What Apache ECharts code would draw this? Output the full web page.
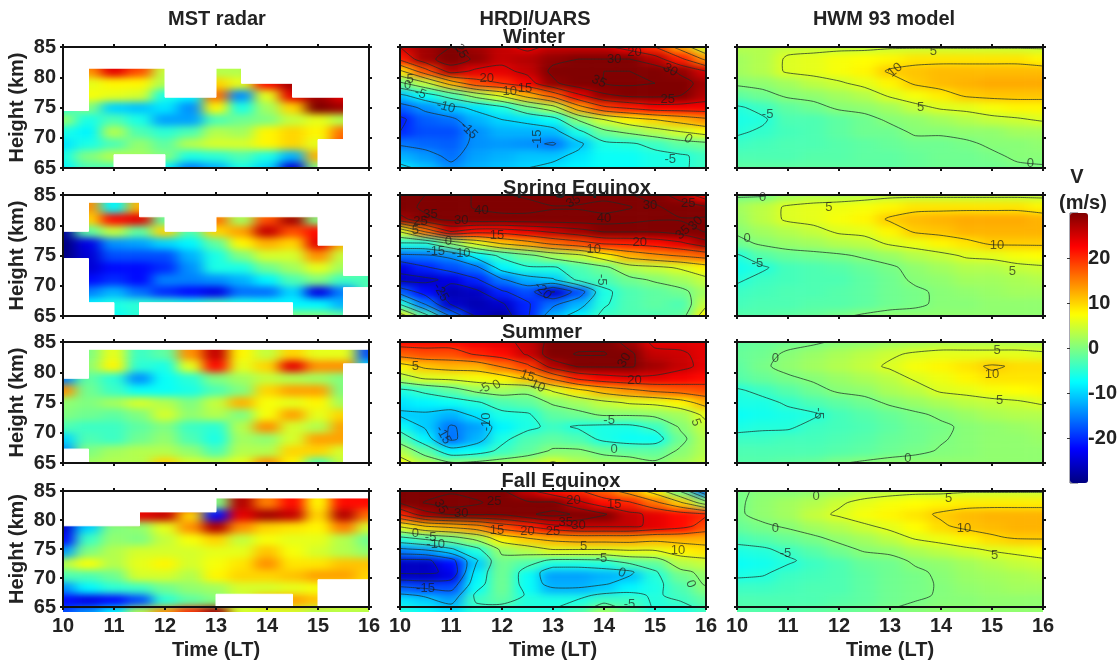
<!DOCTYPE html>
<html><head><meta charset="utf-8">
<script src="https://cdn.jsdelivr.net/npm/echarts@6/dist/echarts.min.js"></script>
<style>
html,body{margin:0;padding:0;background:#fff;width:1120px;height:661px;overflow:hidden}
.clip{position:absolute;overflow:hidden;z-index:1}
.inner{position:absolute;filter:url(#soft)}
#over{position:absolute;left:0;top:0;width:1120px;height:661px;z-index:2}
</style></head><body>
<svg width="0" height="0" style="position:absolute"><filter id="soft" x="0" y="0" width="100%" height="100%" color-interpolation-filters="sRGB"><feGaussianBlur stdDeviation="7 3.5"/></filter></svg>
<div id="under"></div><div id="over"></div>
<script>
// Grid nodes: time columns and height rows (top row first)
const times=[10,10.5,11,11.5,12,12.5,13,13.5,14,14.5,15,15.5,16];
const heights=[85,83,81,79,77,75,73,71,69,67,65];
const xTicks=[10,11,12,13,14,15,16], yTicks=[65,70,75,80,85];
const barTicks=[20,10,0,-10,-20];
const levelsHRDI=[-30,-25,-20,-15,-10,-5,0,5,10,15,20,25,30,35,40];
const levelsHWM=[-5,0,5,10];

const mstWinter=[
[0,18,25,20,10,5,5,3,20,25,22,20,20],
[0,18,25,20,10,5,5,3,18,20,22,20,20],
[0,14,24,18,4,2,3,3,20,20,20,20,20],
[0,6,8,8,3,0,10,6,22,28,25,20,20],
[0,7,6,5,-6,-8,16,-14,6,24,28,24,20],
[-5,0,-10,-11,-9,-14,8,-6,2,10,30,28,22],
[1,-6,-3,-6,-13,-13,-3,-1,0,4,6,3,3],
[-6,-8,3,-3,-5,-3,3,2,8,10,8,16,15],
[-9,-6,-3,1,-2,3,5,5,8,10,6,18,18],
[-6,0,3,2,0,-6,-5,-3,-6,-12,12,12,12],
[-8,-3,-3,-3,-8,-15,-12,-6,-10,-25,0,0,0]];
const hrdiWinter=[
[25,28,30,28,26,24,26,26,26,23,20,13,5],
[21,28,33,29,26,27,29,30,30,30,27,21,14],
[9,18,27,24,24,26,31,34,35,35,33,29,25],
[-1,4,12,18,20,23,29,33,35,36,35,32,28],
[-11,-7,-3,2,6,12,17,24,29,31,31,30,27],
[-17,-14,-11,-9,-6,-1,3,13,19,21,23,23,23],
[-21,-17,-16,-12,-10,-9,-7,0.5,5,8,10,12,14],
[-20,-18,-18,-14,-12,-12,-11.5,-6,-1,1,3,5,7],
[-15.5,-16.5,-17,-14,-13.5,-14,-15.5,-11,-6,-5.5,-4,-2,-1],
[-12,-13.5,-16,-13,-12,-11,-11,-9,-7,-7,-6,-5.5,-4],
[-9,-11,-14,-12,-11,-10,-9,-8,-7,-7,-6,-5.5,-4]];
const hwmWinter=[
[3,3,4,4,4,4,4.5,4.5,4.5,4.5,4.5,4.5,4.5],
[2,3,5.5,6,7,7.5,8,9,9,9,9,9,8],
[2,3,5.5,6,7,8,10.5,11,11.5,11.5,11.5,11.5,11.5],
[0.5,1,2,3.5,4.5,6,8,10.5,11.5,12,12.5,12.5,12.5],
[-2,-1,0.5,1,2,3,5.5,7,8.5,10.5,11,11,11],
[-5.5,-4,-2,-1,0.5,1,2,4,5.5,6,7,8,8],
[-6,-5.5,-3,-3,-2,-1,0.5,1,2,3,4,4.5,5.5],
[-5.5,-4.5,-3.5,-3,-2,-1,-1,0.5,0.5,1,1,2,2],
[-4,-3.5,-3,-3,-2.5,-2,-1.5,-1,-1,-0.5,0.5,0.5,1],
[-3,-3,-3,-2.5,-2.5,-2,-2,-1.5,-1,-1,-0.5,0.5,0.5],
[-2,-2,-2,-2,-2,-2,-2,-1.5,-1,-1,-1,-0.5,-0.2]];

const mstSpring=[
[-25,14,-8,12,8,0,8,8,8,8,20,0,0],
[-25,14,-8,12,8,0,8,8,8,8,20,0,0],
[-25,10,22,24,-2,2,16,2,18,28,0,12,0],
[-28,-2,4,-2,10,-3,10,13,26,18,22,12,0],
[-30,-24,-14,-13,-10,-8,-2,8,12,10,24,12,-2],
[-30,-25,-18,-18,-18,-12,-6,0,5,5,14,4,0],
[-25,-25,-22,-22,-20,-14,-6,-6,-1,2,6,2,-3],
[-20,-22,-20,-22,-15,-15,-14,-12,-8,-3,0,-4,-3],
[-20,-15,-12,-16,-20,-22,-24,-16,-16,-10,-24,-15,-3],
[-8,-8,-6,-5,-5,-6,-4,-6,-7,-8,-8,-12,-5],
[-5,-7,-7,-5,-5,-5,-5,-5,-5,0,0,-2,-5]];
const hrdiSpring=[
[32,35,38,40.5,40.5,39,36,38,38,35.5,32,28,22],
[33,36,38,40.5,42,42,40.5,40.5,42,40.5,36,32,30.5],
[28,34,36,38,38,38,38,38,38,37,35.5,35.5,36],
[5.5,16,25.5,22,22,24,26,28,30.5,30.5,30.5,32,35.5],
[-5.5,-5.5,0.5,6,10.5,13,16,18,20.5,21,22,24,28],
[-16,-15.5,-14,-8,-4,-1,2,4,8,12,14,15.5,17],
[-24,-20.5,-18,-16,-8,-5.5,-5.5,-3,-1,3,4,5.5,8],
[-26,-26,-24,-20.5,-15.5,-12,-10.5,-4,-3,-1,0.5,2,4],
[-17,-22,-27,-26,-20.5,-18,-25.5,-18,-6,-3,-2,-1,2],
[-5.5,-15.5,-25.5,-27,-25.5,-20.5,-16,-12,-5.5,-3,-2,-3,4],
[8,-3,-15.5,-25.5,-28,-20.5,-12,-8,-4,-3,-3,-2,8]];
const hwmSpring=[
[-0.5,-0.5,2,3,3,3.5,4,4,4,4,4,4,4],
[2,3.5,5.5,6,6.5,7,8,9,9,9,9,9,8],
[1.5,3.5,5.5,6,7,8,10.5,11.5,12,12.5,12.5,12.5,12],
[0.5,2,3,4,5.5,6,8,10.5,11,12,12,12,12],
[-1,0.5,1.5,2,3,3.5,5.5,6.5,8,9,10.5,10.5,10.5],
[-5.5,-2.5,-1.5,-1,-0.5,0.5,1.5,3,4,5.5,6,7,7.5],
[-6.5,-5.5,-3.5,-3,-2.5,-1.5,-0.5,1,2,3,3,4,4.5],
[-5.5,-4,-3.5,-3,-3,-2,-1,0.5,1,2,2,2.5,3],
[-4,-3.5,-3,-3,-2.5,-2,-1,-0.5,0.5,1,1.5,2,2],
[-3.5,-3,-3,-2.5,-2.5,-2,-1,-0.5,0.5,0.5,1,1,1],
[-2.5,-2.5,-2,-1.5,-0.5,0.5,1,1,1,1,1,1,1]];

const mstSummer=[
[-5,0,6,-4,-2,14,26,8,4,10,6,6,-18],
[-5,0,6,-4,-2,14,26,8,4,10,6,6,-18],
[-5,1,8,-5,-6,6,22,6,10,24,14,14,-10],
[-15,-2,-5,-14,-7,-5,0,2,4,3,2,0,-3],
[14,-1,-4,-7,-7,-6,-3,0,10,13,13,0,-3],
[1,0,2,5,3,0,4,12,7,6,8,2,-2],
[0,-1,-2,0,5,1,3,0,7,13,6,10,-3],
[-3,-4,-4,-2,0,-4,-5,3,14,5,3,13,-1],
[-10,-3,-4,-1,1,-3,-6,2,1,5,13,13,1],
[-14,0,2,3,3,1,-3,3,3,10,10,5,13],
[0,2,3,3,10,5,4,6,14,8,-3,4,7]];
const hrdiSummer=[
[22,22,22,23,24,26,32,33,33,28,24,24,24],
[17,18,18,20.5,22,25.5,33,35.5,35.5,31,26,25.5,24],
[8,11,12,12,15.5,19,27,30.5,30.5,30.5,28,26,24],
[3,5.5,6,7,8,11,16,21,23,24,24,23,22],
[-6,-4,-2,1,2,1,5.5,9,12,14,16,17,18],
[-9,-8,-7,-5.5,-3,-2,0.5,2,4,5.5,6,8,12],
[-10.5,-10.5,-12,-9,-6,-5.5,-2,-1,0.5,0.5,1,2,6],
[-7,-10.5,-15.5,-13,-8,-6,-4,-5.5,-6,-6,-4,0.5,4],
[-2,-8,-16,-12,-6,-3,-2,-3,-6,-7,-7,-1,3],
[3,-2,-8,-7,-4,-2,0.5,0.5,-1,-2,-2,0.5,3],
[7,3,0.5,1,2,3,5.5,3,2,2,0.5,2,4]];
const hwmSummer=[
[-2,-1.5,-1,-0.5,0.5,1,2,2.5,3,3,3,3,3],
[-1.5,-1,0.5,1.5,2.5,3.5,4.5,5.5,6,6,6,6,5.5],
[-2,-0.5,1,2,3,4,5.5,7,8,9,10.5,9.5,9.5],
[-2.5,-1.5,-0.5,0.5,1.5,2.5,3.5,5.5,6.5,8,9,9,9],
[-5.5,-4,-2.5,-1,0.5,1,2.5,3.5,5.5,6,7,7.5,8],
[-6,-6,-4.5,-3,-2,-1,0.5,1.5,2.5,3.5,4,4.5,5.5],
[-7,-6.5,-6,-5.5,-3.5,-2.5,-1.5,-0.5,0.5,1.5,2.5,3,3],
[-6,-5.5,-5.5,-4,-3.5,-3,-2,-1,-0.5,0.5,1,1.5,2],
[-4,-4,-3.5,-3.5,-3,-2.5,-1.5,-1,-0.2,0.5,1,1,1.5],
[-3,-3,-3,-3,-2.5,-2,-1.2,-0.5,0.2,0.5,1,1,1],
[-2.5,-2.5,-2,-1.5,-0.2,0.5,1,1,1,1,1,1,1]];

const mstFall=[
[-20,-20,15,20,20,24,0,27,15,22,8,22,22],
[-20,-20,15,20,20,24,0,27,15,22,8,22,22],
[-20,-20,15,24,26,10,-22,24,28,26,10,27,16],
[-25,-10,0,1,6,14,27,14,10,9,8,15,5],
[-22,-4,1,0,4,7,10,4,7,6,6,3,-1],
[-13,0,3,5,5,5,6,6,11,7,5,3,1],
[3,7,3,6,8,5,7,9,14,9,9,11,11],
[-3,-3,-1,5,5,3,8,10,10,11,13,13,10],
[-14,-8,-5,-4,-1,1,2,5,5,6,7,8,8],
[-22,-24,-22,-18,-5,-2,0,4,12,13,11,8,8],
[-18,-14,-8,3,14,20,28,5,5,5,3,3,3]];
const hrdiFall=[
[30.5,32,34,32,30.5,26,22,20.5,17,13,8,-0.5,-15.5],
[30.5,35.5,38,36,32,30.5,30.5,26,22,20.5,16,10.5,2],
[20.5,28,30.5,30.5,30.5,34,37,34,30.5,26,24,22,20.5],
[6,10.5,12,14,18,20.5,24,26,26,26,24,22,18],
[-5.5,-3,-1,2,8,10.5,12,13,13,13,12,12,12],
[-15.5,-14,-10.5,-6,1,3,5.5,5.5,5.5,6,6,8,9],
[-26,-26,-22,-10.5,-1,-3,-6,-6,-5.5,-3,-2,3,4],
[-26,-26,-24,-8,-1,-7,-13,-13,-12,-11,-5.5,-1,1],
[-17,-18,-18,-7,-1,-7,-12,-12,-10.5,-8,-6,-3,0.5],
[-9,-10.5,-13,-4,-2,-5.5,-6,-6,-4,-4,-5.5,-4,-2],
[-5.5,-7,-9,-5.5,-6,-5.5,-5.5,-3,2,-2,-5.5,-6,-4]];
const hwmFall=[
[-0.5,0.5,0.5,1,2,3,3.5,4,4,4.5,4.5,4.5,4.5],
[-0.5,1,2,3,4.5,6,7,7.5,8,8.5,8.5,8.5,8.5],
[-0.5,1,2,4,5.5,7,8,9,10.5,11.5,12,12,12],
[-1.5,-0.5,0.5,2,3,4.5,6,7.5,9.5,11,11.5,12,12],
[-3.5,-2.5,-1.5,-0.5,1,2,3.5,5.5,6.5,8,9.5,10.5,10.5],
[-6,-5.5,-4,-2.5,-1,0.5,1,2.5,3.5,4.5,5.5,6,7],
[-7,-6.5,-5.5,-4,-3,-1.5,-1,0.5,1,2,3,4,4.5],
[-6,-5.5,-4,-3.5,-3,-2,-1,-0.5,0.5,1.5,2,2.5,3],
[-4,-4,-3.5,-3,-3,-2,-1,-0.5,0.2,1,1.5,2,2],
[-3,-3,-3,-3,-2.5,-2,-1,-0.5,0.3,0.5,1,1,1],
[-2.5,-2.5,-2.5,-2,-1.5,-1,-0.2,0.5,1,1,1,1,1]];

// Missing radar data: [time from, time to, height from, height to]
const gapsWinter=[[10,10.5,74.5,85],[10.5,12,81.5,85],[12,13,76.7,85],[13,13.5,81.5,85],[13.5,14.5,79,85],[14.5,15.5,76.7,85],[15.5,16,65,85],[15,15.5,65,69.7],[11,12,65,67.2]];
const gapsSpring=[[10,10.5,79,85],[10,10.5,65,74.5],[10.5,11.5,83.8,85],[11.5,12,81.4,85],[12,13,79,85],[13,15,81.4,85],[15,15.5,76.7,85],[15.5,16,71.7,85],[15.5,16,65,69.7],[10.5,11,65,67.2],[11.5,14.5,65,67.2]];
const gapsSummer=[[10,16,83.8,85],[10,10.5,79,85],[10,10.5,65,67.3],[15.5,16,65,81.4]];
const gapsFall=[[10,11.5,79,85],[11.5,13,81.4,85],[13,16,83.8,85],[13,14.5,65,67.2],[15,16,65,69.7]];

// Contour labels: [time, height, text, rotation]
const labHrdiWinter=[[11.2,84.3,'25',-60],[14.6,84.1,'20',0],[14.2,82.9,'30',0],[15.3,81.2,'30',-30],[13.9,79.3,'35',-25],[11.7,79.8,'20',0],[12.45,78.2,'15',0],[12.15,77.6,'10',0],[15.25,76.3,'25',0],[15.65,69.8,'0',-30],[10.2,79.6,'5',0],[10.15,78.7,'0',0],[10.4,77.3,'-5',-20],[10.9,75.1,'-10',-15],[11.35,71.2,'-15',-45],[12.7,69.8,'-15',90],[15.3,66.5,'-5',0]];
const labHrdiSpring=[[10.6,81.8,'35',0],[10.4,80.7,'25',0],[10.3,79.2,'5',0],[11.2,80.8,'30',0],[11.6,82.5,'40',0],[13.4,83.9,'35',30],[14,81.2,'40',0],[14.9,83.3,'30',0],[15.65,83.6,'25',0],[15.55,78.8,'35',40],[15.8,80.3,'30',45],[11.9,78.4,'15',0],[14.7,77.2,'20',0],[13.8,76,'10',0],[10.95,77.3,'0',0],[10.7,75.6,'-15',0],[11.2,75.3,'-10',0],[13.95,71,'-5',-90],[10.8,68.9,'-25',-60],[12.8,69.2,'-20',-45]];
const labHrdiSummer=[[10.3,80.9,'5',0],[12.5,79.4,'15',-20],[12.7,77.7,'10',-25],[11.9,77.9,'0',30],[11.65,77.3,'-5',30],[14.6,78.7,'20',0],[14.4,82,'30',60],[11.7,71.8,'-10',90],[10.85,69.6,'-15',-60],[14.1,72.1,'-5',0],[14.2,67.3,'0',0],[15.8,71.7,'5',-70]];
const labHrdiFall=[[11.85,83.2,'25',0],[10.8,82.3,'35',-60],[11.2,81.2,'30',0],[13.4,83.3,'20',0],[14.2,82.6,'15',0],[13.25,79.6,'35',0],[13.5,79,'30',0],[11.9,78.2,'15',0],[12.5,78,'20',0],[13,78,'25',0],[10.3,77.6,'0',0],[10.6,77,'-5',0],[10.7,75.8,'-10',0],[13.6,75.4,'5',0],[15.45,74.8,'10',0],[13.95,73.4,'-5',0],[14.35,70.9,'0',-20],[10.5,68.2,'-15',0],[15.7,69,'0',-70],[14.5,65.4,'-5',0]];
const labHwmWinter=[[13.85,84.2,'5',0],[13.1,81.2,'10',40],[13.6,75,'5',0],[10.6,73.8,'-5',0],[15.75,65.8,'0',0]];
const labHwmSpring=[[10.5,84.6,'0',0],[11.8,82.9,'5',0],[10.2,77.8,'0',0],[10.4,73.7,'-5',0],[15.1,76.7,'10',0],[15.4,72.4,'5',0]];
const labHwmSummer=[[10.75,82.3,'0',0],[15.1,83.6,'5',0],[15,79.6,'10',0],[15.15,75.4,'5',0],[11.6,73.2,'-5',-90],[13.35,65.8,'0',0]];
const labHwmFall=[[11.55,84.1,'0',0],[14.15,83.8,'5',0],[10.75,78.5,'0',0],[14.45,78.5,'10',0],[10.95,74.2,'-5',0],[15.05,73.9,'5',0]];

const jet=['#000080','#0000ff','#0080ff','#00ffff','#80ff80','#ffff00','#ff8000','#ff0000','#800000'];
const FONT='"Liberation Sans",Arial,sans-serif';
const colX=[63,400,737], rowY=[47,195,342,491], PW=306, PH=121;

const panels=[
 {r:0,c:0,d:mstWinter,gaps:gapsWinter},{r:0,c:1,d:hrdiWinter,lv:levelsHRDI,lab:labHrdiWinter},{r:0,c:2,d:hwmWinter,lv:levelsHWM,lab:labHwmWinter},
 {r:1,c:0,d:mstSpring,gaps:gapsSpring},{r:1,c:1,d:hrdiSpring,lv:levelsHRDI,lab:labHrdiSpring},{r:1,c:2,d:hwmSpring,lv:levelsHWM,lab:labHwmSpring},
 {r:2,c:0,d:mstSummer,gaps:gapsSummer},{r:2,c:1,d:hrdiSummer,lv:levelsHRDI,lab:labHrdiSummer},{r:2,c:2,d:hwmSummer,lv:levelsHWM,lab:labHwmSummer},
 {r:3,c:0,d:mstFall,gaps:gapsFall},{r:3,c:1,d:hrdiFall,lv:levelsHRDI,lab:labHrdiFall},{r:3,c:2,d:hwmFall,lv:levelsHWM,lab:labHwmFall}];

// Soft-edged heatmap layer, one chart per panel; edge cells are repeated beyond the clip so the blur keeps full colour up to the frame
const PAD=2, nx=times.length, ny=heights.length, cw=PW/(nx-1), ch=PH/(ny-1);
const under=document.getElementById('under');
panels.forEach(p=>{
  const clip=document.createElement('div');clip.className='clip';
  clip.style.cssText=`left:${colX[p.c]}px;top:${rowY[p.r]}px;width:${PW}px;height:${PH}px`;
  const inner=document.createElement('div');inner.className='inner';
  const W=Math.round(cw*(nx+2*PAD)),H=Math.round(ch*(ny+2*PAD));
  inner.style.cssText=`left:${-(PAD+.5)*cw}px;top:${-(PAD+.5)*ch}px;width:${W}px;height:${H}px`;
  clip.appendChild(inner);under.appendChild(clip);
  const data=[],xc=[],yc=[];
  for(let i=0;i<nx+2*PAD;i++)xc.push(i);
  for(let j=0;j<ny+2*PAD;j++)yc.push(j);
  for(let i=0;i<nx+2*PAD;i++)for(let j=0;j<ny+2*PAD;j++){
    const ci=Math.min(nx-1,Math.max(0,i-PAD));
    const rj=Math.min(ny-1,Math.max(0,j-PAD));
    data.push([i,ny+2*PAD-1-j,p.d[rj][ci]]);
  }
  echarts.init(inner,null,{width:W,height:H}).setOption({animation:false,
    grid:{left:0,right:0,top:0,bottom:0},
    xAxis:{type:'category',data:xc,show:false},yAxis:{type:'category',data:yc,show:false},
    visualMap:{show:false,min:-30,max:30,inRange:{color:jet},dimension:2},
    series:[{type:'heatmap',data,progressive:0,itemStyle:{borderWidth:0}}]});
});

function contours(d,levels){
  const out=[];
  levels.forEach(lv=>{
    const segs=[];
    for(let j=0;j<ny-1;j++)for(let i=0;i<nx-1;i++){
      const a=d[j][i],b=d[j][i+1],c=d[j+1][i+1],e=d[j+1][i];
      const X0=times[i],X1=times[i+1],Y0=heights[j],Y1=heights[j+1];
      const cut=(v1,v2,f)=>((v1>=lv)!==(v2>=lv))?f((lv-v1)/(v2-v1)):null;
      const T=cut(a,b,t=>[X0+t*(X1-X0),Y0]),R=cut(b,c,t=>[X1,Y0+t*(Y1-Y0)]),
            B=cut(e,c,t=>[X0+t*(X1-X0),Y1]),L=cut(a,e,t=>[X0,Y0+t*(Y1-Y0)]);
      const pts=[T,R,B,L].filter(Boolean);
      if(pts.length===2)segs.push(pts);
      else if(pts.length===4){
        const up=(a+b+c+e)/4>=lv;
        if((a>=lv)===up){segs.push([T,R]);segs.push([B,L]);}
        else{segs.push([T,L]);segs.push([R,B]);}
      }
    }
    const key=q=>q[0].toFixed(4)+','+q[1].toFixed(4);
    const used=segs.map(()=>false);
    const find=q=>{const k=key(q);for(let s=0;s<segs.length;s++){if(used[s])continue;
      if(key(segs[s][0])===k){used[s]=true;return segs[s][1];}
      if(key(segs[s][1])===k){used[s]=true;return segs[s][0];}}return null;};
    for(let s=0;s<segs.length;s++){
      if(used[s])continue;used[s]=true;
      const line=[segs[s][0],segs[s][1]];let n;
      while((n=find(line[line.length-1])))line.push(n);
      while((n=find(line[0])))line.unshift(n);
      out.push(line);
    }
  });
  return out;
}

// Axes, frames, contours, labels, colour bar
const grids=[],xAxes=[],yAxes=[],series=[];
const axisBase={axisLine:{show:true,onZero:false,lineStyle:{color:'#111',width:2}},axisTick:{show:true,length:3,lineStyle:{color:'#111',width:2}},splitLine:{show:false},z:6};
const tickFont={fontFamily:FONT,fontWeight:'bold',fontSize:20,color:'#222'};
panels.forEach((p,i)=>{
  grids.push({left:colX[p.c],top:rowY[p.r],width:PW,height:PH,containLabel:false});
  const xb={...axisBase,type:'value',min:10,max:16,interval:1,gridIndex:i};
  const yb={...axisBase,type:'value',min:65,max:85,interval:5,gridIndex:i};
  xAxes.push({...xb,position:'bottom',axisLabel:{show:p.r===3,margin:9,...tickFont},
    ...(p.r===3?{name:'Time (LT)',nameLocation:'middle',nameGap:33,nameTextStyle:{...tickFont}}:{})});
  xAxes.push({...xb,position:'top',axisLabel:{show:false}});
  yAxes.push({...yb,position:'left',axisLabel:{show:p.c===0,margin:7,...tickFont},
    ...(p.c===0?{name:'Height (km)',nameLocation:'middle',nameGap:36,nameTextStyle:{...tickFont}}:{})});
  yAxes.push({...yb,position:'right',axisLabel:{show:false}});
  const xi=2*i,yi=2*i;
  if(p.gaps)series.push({type:'custom',xAxisIndex:xi,yAxisIndex:yi,z:3,silent:true,
    encode:{x:[0,1],y:[2,3]},data:p.gaps,
    renderItem:(ps,api)=>{const a=api.coord([api.value(0),api.value(3)]),b=api.coord([api.value(1),api.value(2)]);
      return{type:'rect',shape:{x:a[0],y:a[1],width:b[0]-a[0],height:b[1]-a[1]},style:{fill:'#fff',stroke:'#fff',lineWidth:1}};}});
  if(p.lv){
    const lines=contours(p.d,p.lv);
    series.push({type:'custom',xAxisIndex:xi,yAxisIndex:yi,z:4,silent:true,data:lines.map((l,k)=>[l[0][0],l[0][1],k]),
      encode:{x:0,y:1},
      renderItem:(ps,api)=>({type:'polyline',shape:{points:lines[api.value(2)].map(q=>api.coord(q)),smooth:0.25},
        style:{fill:null,stroke:'rgba(30,45,40,0.72)',lineWidth:1}})});
    series.push({type:'scatter',xAxisIndex:xi,yAxisIndex:yi,z:5,silent:true,symbolSize:0.1,itemStyle:{color:'transparent'},
      data:p.lab.map(q=>({value:[q[0],q[1]],label:{formatter:q[2],rotate:q[3]}})),
      label:{show:true,position:'inside',fontFamily:FONT,fontSize:13,color:'rgba(25,25,25,0.85)'}});
  }
});
// Colour bar frame and tick labels
grids.push({left:1070,top:213,width:18,height:270,show:true,borderColor:'#556',borderWidth:1,backgroundColor:'transparent'});
xAxes.push({type:'value',gridIndex:12,show:false,min:0,max:1});
yAxes.push({type:'value',gridIndex:12,min:-30,max:30,interval:10,position:'right',
  axisLine:{show:false},axisTick:{show:true,inside:true,length:3,lineStyle:{color:'#333'},customValues:barTicks},splitLine:{show:false},
  axisLabel:{margin:10,...tickFont,customValues:barTicks}});
series.push({type:'scatter',xAxisIndex:xAxes.length-1,yAxisIndex:yAxes.length-1,data:[],id:'bar'});

const titles=[['MST radar',217,19],['HRDI/UARS',535,19],['Winter',534,37],['HWM 93 model',884,19],
 ['Spring Equinox',577,188],['Summer',542,332],['Fall Equinox',561,481],['V',1077,177],['(m/s)',1083,203]];

echarts.init(document.getElementById('over'),null,{width:1120,height:661}).setOption({
  animation:false,backgroundColor:'transparent',
  title:titles.map(t=>({text:t[0],left:t[1],top:t[2],padding:0,textAlign:'center',textVerticalAlign:'middle',
    textStyle:{fontFamily:FONT,fontWeight:'bold',fontSize:20,color:'#222'}})),
  grid:grids,xAxis:xAxes,yAxis:yAxes,series,
  visualMap:{show:true,type:'continuous',min:-30,max:30,left:1070,top:213,itemWidth:18,itemHeight:270,padding:0,
    calculable:false,text:null,inRange:{color:jet},seriesIndex:series.length-1,dimension:1,showLabel:false}
});
</script></body></html>
